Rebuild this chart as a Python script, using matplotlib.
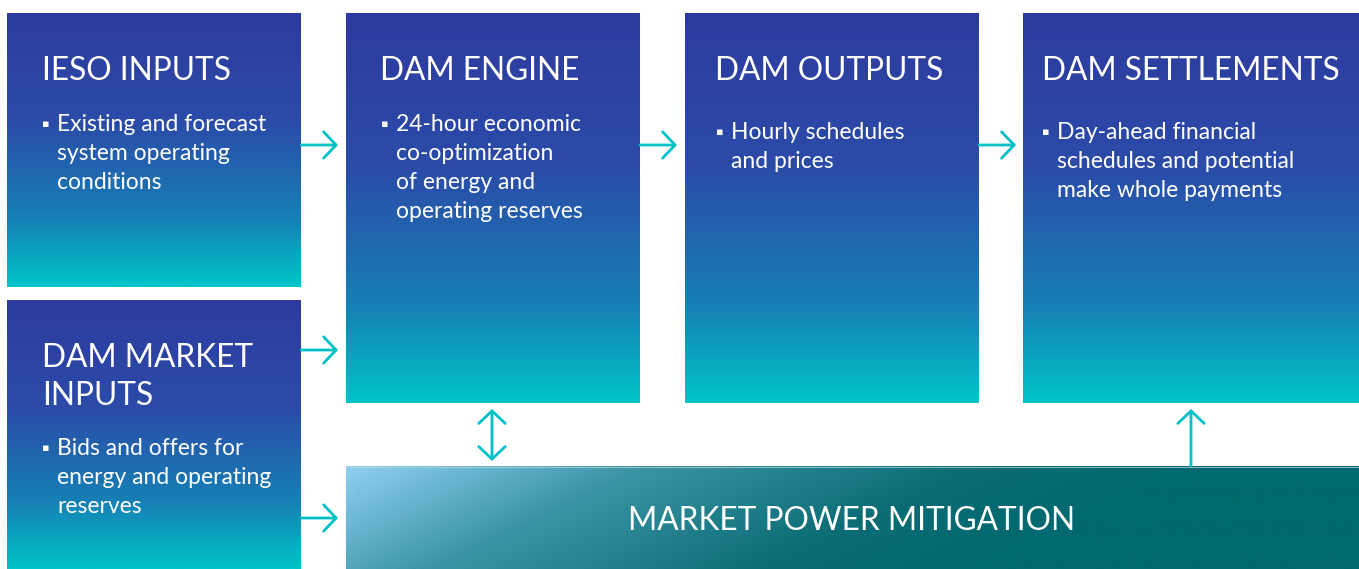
import numpy as np
import matplotlib.pyplot as plt
from matplotlib.colors import LinearSegmentedColormap

# textos do diagrama
titulos = ["IESO INPUTS", "DAM ENGINE", "DAM OUTPUTS", "DAM SETTLEMENTS", "DAM MARKET\nINPUTS"]
itens = [
    ["Existing and forecast", "system operating", "conditions"],
    ["24-hour economic", "co-optimization", "of energy and", "operating reserves"],
    ["Hourly schedules", "and prices"],
    ["Day-ahead financial", "schedules and potential", "make whole payments"],
    ["Bids and offers for", "energy and operating", "reserves"],
]
rodape = "MARKET POWER MITIGATION"

# caixas: x0, y0, x1, y1 em pixels (y para baixo)
caixas = [(7, 13, 301, 287), (346, 13, 640, 403), (685, 13, 979, 403),
          (1023, 13, 1359, 403), (7, 300, 301, 569)]
pos_titulo = [(42, 80), (380, 80), (715, 80), (1042, 80), (42, 367)]
pos_item = [(57, 131), (396, 131), (731, 139), (1057, 139), (57, 455)]

W, H = 1359, 569
fig = plt.figure(figsize=(W / 100, H / 100), dpi=100)
ax = fig.add_axes([0, 0, 1, 1])
ax.set_xlim(0, W)
ax.set_ylim(H, 0)
ax.axis("off")

azul = LinearSegmentedColormap.from_list(
    "azul", [(0, "#2E3A9F"), (0.4, "#2B4CA8"), (0.75, "#1680B5"), (1, "#00C4C8")])
grad_v = np.linspace(0, 1, 256).reshape(-1, 1)

fonte = "Lato"
for (x0, y0, x1, y1), tit, (tx, ty), linhas, (bx, by) in zip(caixas, titulos, pos_titulo, itens, pos_item):
    ax.imshow(grad_v, cmap=azul, extent=(x0, x1, y1, y0), aspect="auto", zorder=1)
    for k, t in enumerate(tit.split("\n")):
        ax.text(tx, ty + k * 38, t, color="white", fontsize=22.8, family=fonte,
                va="baseline", ha="left", zorder=3)
    for k, t in enumerate(linhas):
        ax.text(bx, by + k * 29, t, color="white", fontsize=16.5, family=fonte,
                va="baseline", ha="left", zorder=3)
    ax.text(bx - 15, by - 7, "\u25aa", color="white", fontsize=8, family="DejaVu Sans",
            va="center", ha="left", zorder=3)

# caixa de baixo com gradiente diagonal
teal = LinearSegmentedColormap.from_list(
    "teal", [(0, "#8FD0F2"), (0.35, "#3A94A5"), (0.75, "#0B6C74"), (1, "#00686F")])
gx, gy = np.meshgrid(np.linspace(0, 1, 400), np.linspace(0, 1, 100))
diag = np.clip(gx * 1.2 + gy * 0.25, 0, 1)
ax.imshow(diag, cmap=teal, extent=(346, 1359, 569, 466), aspect="auto", zorder=1)
ax.plot([346, 1359], [466.5, 466.5], color="#B5D6DC", lw=0.8, alpha=0.7, zorder=2)
ax.text(852, 530, rodape, color="white", fontsize=22.8, family=fonte,
        va="baseline", ha="center", zorder=3)

# setas
ciano = "#00C0C8"
estilo = "->,head_length=0.9,head_width=0.95"
setas = [((301, 145), (338, 145)), ((640, 145), (677, 145)), ((979, 145), (1016, 145)),
         ((301, 350), (338, 350)), ((301, 518), (338, 518)), ((1191, 466), (1191, 409))]
for a, b in setas:
    ax.annotate("", xy=b, xytext=a, zorder=4,
                arrowprops=dict(arrowstyle=estilo, color=ciano, lw=2, mutation_scale=10,
                                shrinkA=0, shrinkB=0))
ax.annotate("", xy=(492, 409), xytext=(492, 461), zorder=4,
            arrowprops=dict(arrowstyle="<->,head_length=0.9,head_width=0.95", color=ciano,
                            lw=2, mutation_scale=10, shrinkA=0, shrinkB=0))

fig.savefig("out.png", dpi=100)
